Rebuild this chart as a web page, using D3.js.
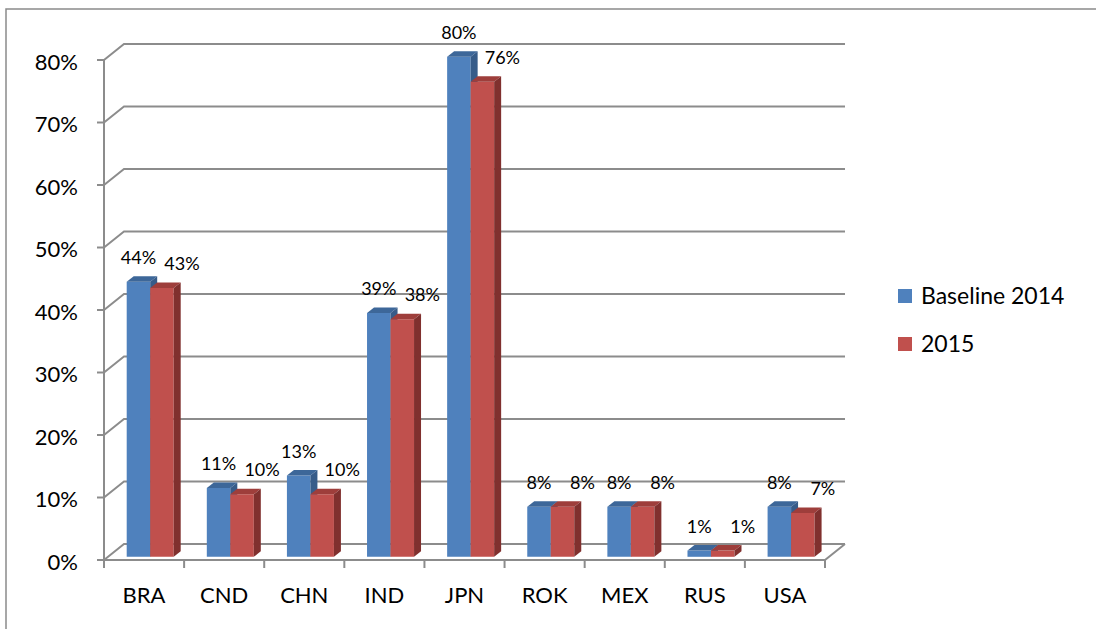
<!DOCTYPE html>
<html>
<head>
<meta charset="utf-8">
<script src="https://cdn.jsdelivr.net/npm/d3@7"></script>
<style>
  html, body { margin: 0; padding: 0; background: #fff; }
  svg { display: block; font-family: Lato, "Open Sans", sans-serif; }
</style>
</head>
<body>
<svg id="chart" width="1096" height="629"></svg>
<script>
const categories = ["BRA", "CND", "CHN", "IND", "JPN", "ROK", "MEX", "RUS", "USA"];
const seriesNames = ["Baseline 2014", "2015"];
const baseline2014 = [44, 11, 13, 39, 80, 8, 8, 1, 8];
const values2015 = [43, 10, 10, 38, 76, 8, 8, 1, 7];
const yTicks = [0, 10, 20, 30, 40, 50, 60, 70, 80];

const seriesValues = [baseline2014, values2015];
const colors = [
  { front: "#4F81BD", top: "#3D6799", side: "#375C89" },
  { front: "#C0504D", top: "#9E3E3B", side: "#80302E" }
];

const svg = d3.select("#chart");

// plot geometry (front plane)
const left = 104, right = 825, bottom = 560, topY = 60;
const DX = 20, DY = -16;              // full depth offset
const barFront = 0.2, barDepth = 0.35; // depth fractions

const x = d3.scaleBand().domain(categories).range([left, right]).padding(0);
const y = d3.scaleLinear().domain([0, 80]).range([bottom, topY]);
const xs = d3.scaleBand().domain(seriesNames).range([18.7, 65.7]).padding(0);

// frame
svg.append("path")
  .attr("d", "M6,629 L6,9 L1096,9")
  .attr("fill", "none").attr("stroke", "#8a8a8a").attr("stroke-width", 1.5);

const grid = svg.append("g").attr("fill", "none").attr("stroke", "#8c8c8c").attr("stroke-width", 2);

// gridlines: side wall diagonal + back wall horizontal
yTicks.forEach(v => {
  grid.append("path")
    .attr("d", `M${left},${y(v)} L${left + DX},${y(v) + DY} L${right + DX},${y(v) + DY}`);
});
// floor front edge and right edge
grid.append("path")
  .attr("d", `M${left},${y(0)} L${right},${y(0)} L${right + DX},${y(0) + DY}`);
// vertical axis
grid.append("line").attr("x1", left).attr("x2", left).attr("y1", y(80)).attr("y2", y(0));

// y ticks
const yAxis = svg.append("g");
yTicks.forEach(v => {
  yAxis.append("line")
    .attr("x1", left - 7).attr("x2", left)
    .attr("y1", y(v)).attr("y2", y(v))
    .attr("stroke", "#8c8c8c").attr("stroke-width", 2);
  yAxis.append("text")
    .attr("x", 78).attr("y", y(v) + 9.5)
    .attr("text-anchor", "end")
    .attr("font-size", 22).attr("fill", "#000")
    .text(v + "%");
});

// x ticks
const xTickPos = categories.map(c => x(c)).concat([right]);
xTickPos.forEach(px => {
  svg.append("line")
    .attr("x1", px).attr("x2", px)
    .attr("y1", bottom).attr("y2", bottom + 8)
    .attr("stroke", "#8c8c8c").attr("stroke-width", 2);
});
categories.forEach(c => {
  svg.append("text")
    .attr("x", x(c) + x.bandwidth() / 2)
    .attr("y", 603)
    .attr("text-anchor", "middle")
    .attr("font-size", 22).attr("fill", "#000")
    .text(c);
});

// bars
const bars = svg.append("g");
const fx = DX * barFront, fy = DY * barFront;
const dx = DX * barDepth, dy = DY * barDepth;
categories.forEach((c, i) => {
  seriesNames.forEach((s, si) => {
    const v = seriesValues[si][i];
    const x0 = x(c) + xs(s) + fx;
    const x1 = x0 + xs.bandwidth();
    const yb = y(0) + fy;
    const yt = y(v) + fy;
    const col = colors[si];
    bars.append("path")
      .attr("d", `M${x0},${yb} L${x0},${yt} L${x1},${yt} L${x1},${yb} Z`)
      .attr("fill", col.front);
    bars.append("path")
      .attr("d", `M${x0},${yt} L${x0 + dx},${yt + dy} L${x1 + dx},${yt + dy} L${x1},${yt} Z`)
      .attr("fill", col.top);
    bars.append("path")
      .attr("d", `M${x1},${yb} L${x1},${yt} L${x1 + dx},${yt + dy} L${x1 + dx},${yb + dy} Z`)
      .attr("fill", col.side);
  });
});

// data labels
const labels = svg.append("g");
const labelShift = [0, 20];
categories.forEach((c, i) => {
  seriesNames.forEach((s, si) => {
    const v = seriesValues[si][i];
    const cx = x(c) + xs(s) + fx + xs.bandwidth() / 2 + labelShift[si];
    labels.append("text")
      .attr("x", cx)
      .attr("y", y(v) + fy - 18)
      .attr("text-anchor", "middle")
      .attr("font-size", 18).attr("fill", "#000")
      .text(v + "%");
  });
});

// legend
const legend = svg.append("g");
seriesNames.forEach((s, si) => {
  const ly = 289 + si * 48;
  legend.append("rect")
    .attr("x", 898).attr("y", ly).attr("width", 14).attr("height", 14)
    .attr("fill", colors[si].front);
  legend.append("text")
    .attr("x", 921).attr("y", ly + 15)
    .attr("font-size", 23).attr("fill", "#000")
    .text(s);
});
</script>
</body>
</html>
